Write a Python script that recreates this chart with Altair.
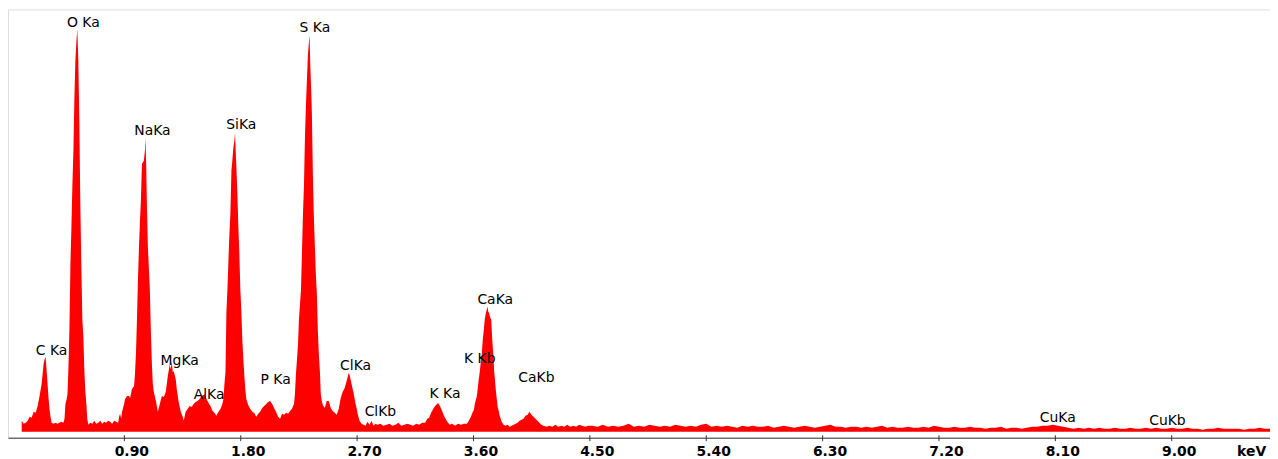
import altair as alt
import pandas as pd

# ---- spectrum values: (energy keV, counts) ----
seg_c_o = [(0.106,11),(0.121,8),(0.137,9),(0.152,11),(0.168,15),(0.183,14),(0.198,20),(0.214,19),(0.229,26),(0.244,36),
           (0.260,48),(0.275,68),(0.283,73),(0.291,75),(0.298,63),(0.306,48),(0.314,33),(0.321,23),(0.329,15),(0.337,9),
           (0.352,8),(0.367,9),(0.383,8),(0.398,9),(0.413,10),(0.429,9),(0.437,13),(0.444,28),(0.452,32),(0.460,38),
           (0.467,63),(0.475,103),(0.483,171),(0.490,203),(0.498,248),(0.506,283),(0.513,333),(0.521,373),(0.529,393),(0.536,405),
           (0.544,373),(0.552,308),(0.559,233),(0.567,168),(0.575,113),(0.583,95),(0.590,63),(0.598,41),(0.606,28),(0.613,13),
           (0.621,7),(0.636,9),(0.652,8),(0.667,11),(0.682,8),(0.698,9),(0.713,11),(0.729,8),(0.744,10),(0.759,9),
           (0.775,11),(0.790,10),(0.805,8),(0.821,11),(0.836,10),(0.852,9)]

seg_na_si = [(0.859,15),(0.867,18),(0.875,13),(0.882,20),(0.898,28),(0.905,33),(0.921,36),(0.936,36),(0.944,34),(0.959,43),
             (0.975,46),(0.982,58),(0.990,80),(0.998,116),(1.005,153),(1.013,186),(1.021,213),(1.028,233),(1.036,270),(1.044,271),
             (1.051,273),(1.059,283),(1.063,295),(1.069,268),(1.074,230),(1.082,186),(1.090,163),(1.097,143),(1.105,100),(1.113,68),
             (1.120,48),(1.128,40),(1.144,31),(1.159,20),(1.174,28),(1.190,36),(1.205,35),(1.220,40),(1.236,56),(1.251,68),
             (1.259,63),(1.267,71),(1.274,60),(1.282,61),(1.297,53),(1.305,43),(1.320,30),(1.336,20),(1.351,15),(1.359,11),
             (1.374,20),(1.389,23),(1.405,26),(1.420,25),(1.436,28),(1.451,30),(1.466,31),(1.482,33),(1.497,36),(1.512,37),
             (1.520,38),(1.535,33),(1.551,29),(1.566,26),(1.582,21),(1.597,19),(1.612,16),(1.628,20),(1.643,23),(1.658,28),
             (1.666,33),(1.674,48),(1.682,60),(1.689,120),(1.697,143),(1.705,173),(1.712,198),(1.720,220),(1.728,263),(1.735,273),
             (1.743,286),(1.751,293),(1.756,301),(1.762,280),(1.774,240),(1.781,208),(1.789,180),(1.797,143),(1.804,123),(1.812,93),
             (1.820,73),(1.828,56),(1.835,43),(1.843,33),(1.858,27),(1.874,23),(1.889,20),(1.904,19),(1.920,15),(1.935,18),
             (1.950,20),(1.966,24),(1.981,26),(1.997,28),(2.012,30),(2.027,31),(2.043,28),(2.058,24),(2.073,20),(2.089,15),
             (2.104,13),(2.120,18),(2.135,17),(2.150,19),(2.166,18),(2.181,21),(2.196,23)]

seg_s_cl = [(2.204,26),(2.212,28),(2.219,38),(2.227,58),(2.235,73),(2.243,88),(2.250,113),(2.258,128),(2.266,143),(2.273,178),
            (2.281,218),(2.289,248),(2.296,293),(2.304,328),(2.312,355),(2.319,378),(2.327,392),(2.332,399),(2.338,368),(2.345,343),
            (2.350,321),(2.358,258),(2.365,218),(2.373,188),(2.381,158),(2.389,138),(2.396,103),(2.404,78),(2.412,61),(2.419,38),
            (2.427,31),(2.435,27),(2.450,24),(2.465,31),(2.481,31),(2.496,24),(2.511,21),(2.527,19),(2.542,17),(2.558,23),
            (2.573,34),(2.588,40),(2.604,44),(2.619,51),(2.627,55),(2.634,59),(2.642,57),(2.650,52),(2.657,48),(2.673,39),
            (2.688,28),(2.696,24),(2.704,18),(2.719,11),(2.734,8),(2.750,7),(2.765,6),(2.780,10),(2.796,7),(2.811,11),
            (2.827,6),(2.842,8),(2.857,7),(2.880,8),(2.903,6),(2.927,7),(2.950,8),(2.973,6),(2.996,7),(3.019,9),
            (3.042,6),(3.065,7),(3.088,8),(3.111,7),(3.134,6),(3.157,8),(3.180,7),(3.203,9),(3.226,9)]

seg_k_ca = [(3.242,13),(3.257,14),(3.272,19),(3.288,23),(3.303,26),(3.318,28),(3.326,29),(3.341,26),(3.357,21),(3.372,16),
            (3.388,12),(3.403,9),(3.418,7),(3.434,8),(3.457,6),(3.480,8),(3.503,7),(3.526,8),(3.549,8),(3.564,11),
            (3.580,15),(3.595,20),(3.603,22),(3.610,28),(3.626,36),(3.634,45),(3.641,53),(3.649,61),(3.657,71),(3.664,78),
            (3.672,93),(3.680,103),(3.687,113),(3.695,119),(3.703,123),(3.708,126),(3.714,121),(3.722,119),(3.729,115),(3.737,113),
            (3.745,93),(3.753,78),(3.760,61),(3.772,43),(3.780,33),(3.787,25),(3.795,21),(3.803,16),(3.818,10),(3.833,7),
            (3.849,6),(3.864,7),(3.879,5),(3.895,6),(3.910,7),(3.926,8),(3.941,9),(3.956,11),(3.972,12),(3.987,13),
            (4.002,16),(4.018,17),(4.033,20),(4.048,17),(4.064,15),(4.079,13),(4.095,11),(4.110,9),(4.125,7),(4.141,6),
            (4.164,5),(4.187,6),(4.210,5),(4.233,7),(4.256,5),(4.279,6),(4.302,5),(4.325,7),(4.348,5),(4.371,6),
            (4.394,5),(4.417,7),(4.440,6),(4.464,5),(4.487,6)]

# background channels from 4.52 keV every 0.04 keV
bg_start = 4.52
bg_step = 0.04
bg_counts = [6,5,7,5,6,5,6,8,5,6,5,7,6,
             5,6,5,7,6,5,6,5,7,8,5,6,
             5,6,5,4,6,5,6,5,5,6,4,5,6,
             5,4,5,6,5,4,5,6,7,5,5,4,
             5,5,4,5,4,5,6,4,5,4,4,5,4,
             4,5,4,6,5,4,4,5,4,4,5,4,
             4,3,4,4,5,3,4,4,3,4,5,5,6,
             6,7,6,5,4,3,4,3,4,3,4,3,
             3,4,3,3,4,3,3,4,3,4,3,3,4,
             3,3,4,3,3,2,3,3,4,3,3,3,
             3,2,3,3,4,3,3]

# peak labels
peak_labels = ["C Ka", "O Ka", "NaKa", "MgKa", "AlKa", "SiKa", "P Ka", "S Ka",
               "ClKa", "ClKb", "K Ka", "K Kb", "CaKa", "CaKb", "CuKa", "CuKb"]
label_kev = [0.337, 0.583, 1.117, 1.328, 1.555, 1.804, 2.070, 2.373,
             2.688, 2.880, 3.380, 3.649, 3.768, 4.087, 8.118, 8.967]
label_counts = [77, 407, 299, 67, 33, 305, 48, 402,
                62, 16, 34, 69, 129, 50, 10, 7]

tick_values = [0.9, 1.8, 2.7, 3.6, 4.5, 5.4, 6.3, 7.2, 8.1, 9.0]

# ---- build tables ----
rows = seg_c_o + seg_na_si + seg_s_cl + seg_k_ca
rows += [(round(bg_start + bg_step * i, 3), c) for i, c in enumerate(bg_counts)]
spec = pd.DataFrame(rows, columns=["keV", "counts"])
labels = pd.DataFrame({"label": peak_labels, "keV": label_kev, "counts": label_counts})
ticks = pd.DataFrame({"t": tick_values})

W, H = 1270, 431
xs = alt.Scale(domain=[0, 9.76], nice=False, zero=False)
ys = alt.Scale(domain=[-6, 425], nice=False, zero=False)

area = alt.Chart(spec).mark_area(color="#FF0000", interpolate="linear").encode(
    x=alt.X("keV:Q", scale=xs,
            axis=alt.Axis(values=tick_values, format=".2f", ticks=False, grid=False,
                          domainColor="#333333", domainWidth=1,
                          labelFont="DejaVu Sans", labelFontWeight="bold", labelFontSize=14,
                          labelColor="black", labelPadding=7, labelOffset=7,
                          labelOverlap=False, labelFlush=False,
                          title="keV", titleX=1251, titleY=18, titleAlign="center",
                          titleBaseline="alphabetic", titleFont="DejaVu Sans",
                          titleFontWeight="bold", titleFontSize=14, titleColor="black")),
    y=alt.Y("counts:Q", scale=ys, axis=None),
    y2=alt.datum(0),
)

tick_marks = alt.Chart(ticks).mark_rule(color="#333333", strokeWidth=1).encode(
    x=alt.X("t:Q", scale=xs),
    y=alt.value(H - 2.5),
    y2=alt.value(H + 3.5),
)

text = alt.Chart(labels).mark_text(
    font="DejaVu Sans", fontSize=14, color="black", align="center", baseline="alphabetic"
).encode(
    x=alt.X("keV:Q", scale=xs),
    y=alt.Y("counts:Q", scale=ys),
    text="label:N",
)

chart = alt.layer(area, tick_marks, text).properties(
    width=W, height=H,
    autosize=alt.AutoSizeParams(type="none"),
    padding={"left": 0, "top": 0, "right": 0, "bottom": 20},
).configure_view(stroke=None).configure(background="white")

chart.save("out.html", embed_options={"renderer": "svg", "actions": False})
